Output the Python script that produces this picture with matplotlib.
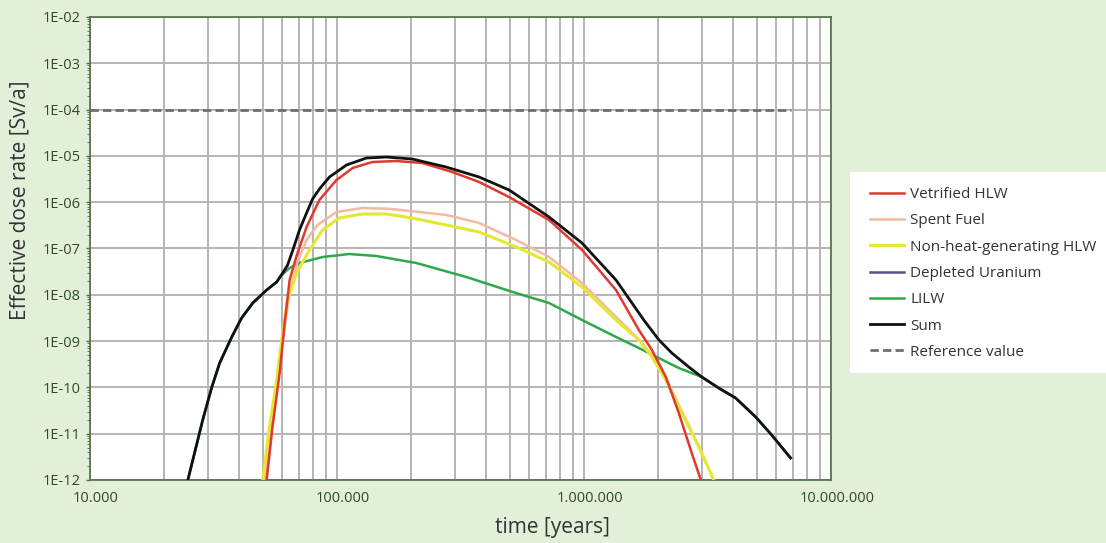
import numpy as np
import matplotlib
matplotlib.use('Agg')
import matplotlib.pyplot as plt
import matplotlib.ticker as ticker
from matplotlib.patches import Rectangle
from matplotlib.transforms import ScaledTranslation

plt.rcParams['font.family'] = ['Open Sans', 'DejaVu Sans']

# time [years] / dose rate [Sv/a]
sum_t = [24900, 26500, 28600, 31100, 33500, 37500, 41100, 45600, 51900, 57000, 60300, 63100,
         66700, 70500, 75300, 79600, 84900, 93200, 109200, 131500, 158500, 201600, 276700,
         376000, 498000, 722000, 982000, 1347000, 1746000, 2010000, 2268000, 2656000,
         2998000, 3510000, 4111000, 4955000, 5750000, 6860000]
sum_d = [1e-12, 3.83e-12, 1.98e-11, 1e-10, 3.37e-10, 1.23e-9, 3.16e-9, 6.65e-9, 1.27e-8, 1.89e-8,
         2.96e-8, 4.4e-8, 1.03e-7, 2.51e-7, 5.85e-7, 1.17e-6, 1.93e-6, 3.5e-6, 6.35e-6, 9.0e-6,
         9.46e-6, 8.57e-6, 5.75e-6, 3.5e-6, 1.83e-6, 4.79e-7, 1.31e-7, 2.09e-8, 2.86e-9, 1.06e-9,
         5.53e-10, 2.76e-10, 1.68e-10, 9.7e-11, 5.9e-11, 2.3e-11, 9.4e-12, 2.99e-12]

vhlw_t = [51900, 54800, 58600, 61400, 64300, 68600, 75300, 84900, 99500, 115700, 139000,
          173800, 221500, 293000, 376000, 498000, 722000, 982000, 1347000, 1667000, 1884000,
          2144000, 2420000, 2730000, 2972000]
vhlw_d = [1e-12, 1.4e-11, 2.05e-10, 2.46e-9, 2.09e-8, 6.9e-8, 2.91e-7, 1.12e-6, 3.01e-6, 5.48e-6,
          7.38e-6, 7.76e-6, 7.03e-6, 4.49e-6, 2.73e-6, 1.29e-6, 4.13e-7, 9.3e-8, 1.27e-8, 1.74e-9,
          6.43e-10, 1.68e-10, 2.8e-11, 3.83e-12, 1e-12]

sf_t = [50900, 54300, 57500, 60800, 64300, 69200, 75300, 83400, 99500, 126800, 163000, 215000,
        276700, 376000, 531000, 722000, 982000, 1347000, 1667000, 1884000, 2144000, 2488000,
        2917000, 3350000]
sf_d = [1e-12, 1.4e-11, 1.45e-10, 1.35e-9, 1.15e-8, 5.1e-8, 1.53e-7, 3.22e-7, 6.14e-7, 7.5e-7,
        7.2e-7, 6.14e-7, 5.3e-7, 3.56e-7, 1.53e-7, 6.55e-8, 1.8e-8, 3.32e-9, 1.1e-9, 5.0e-10,
        1.6e-10, 3.1e-11, 5.4e-12, 1e-12]

nhg_t = [50000, 53300, 57000, 59700, 63100, 68600, 77400, 87400, 102000, 126800, 158500,
         201600, 276700, 376000, 531000, 722000, 982000, 1347000, 1667000, 1884000, 2144000,
         2488000, 2917000, 3350000]
nhg_d = [1e-12, 1.4e-11, 1.45e-10, 1.06e-9, 7.7e-9, 2.96e-8, 9.3e-8, 2.51e-7, 4.56e-7, 5.56e-7,
         5.56e-7, 4.56e-7, 3.22e-7, 2.27e-7, 1.08e-7, 5.1e-8, 1.47e-8, 2.86e-9, 1.06e-9, 4.54e-10,
         1.45e-10, 2.8e-11, 5.2e-12, 1e-12]

du_t = []
du_d = []

lilw_t = [24900, 26500, 28600, 31100, 33500, 37500, 41100, 45600, 51900, 57000, 58600, 64300,
          70500, 87400, 112000, 144500, 209600, 334000, 531000, 722000, 982000, 1347000,
          1667000, 2010000, 2420000, 2998000, 3510000, 4111000, 4955000, 5750000, 6860000]
lilw_d = [1e-12, 3.83e-12, 1.98e-11, 1e-10, 3.37e-10, 1.23e-9, 3.16e-9, 6.65e-9, 1.27e-8, 1.89e-8,
          2.42e-8, 3.8e-8, 4.86e-8, 6.55e-8, 7.6e-8, 6.88e-8, 4.86e-8, 2.42e-8, 1.09e-8, 6.65e-9,
          2.86e-9, 1.23e-9, 7.1e-10, 4.3e-10, 2.62e-10, 1.68e-10, 9.7e-11, 5.9e-11, 2.3e-11,
          9.4e-12, 2.99e-12]

ref_t = [10000, 6900000]
ref_d = [1e-4, 1e-4]

yticks = [1e-12, 1e-11, 1e-10, 1e-9, 1e-8, 1e-7, 1e-6, 1e-5, 1e-4, 1e-3, 1e-2]
xticks = [1e4, 1e5, 1e6, 1e7]
xtick_labels = ['10.000', '100.000', '1.000.000', '10.000.000']

bg = '#e2efd9'
frame = '#4f6f45'
txt = '#2f4a2a'

fig = plt.figure(figsize=(11.06, 5.43), dpi=100, facecolor=bg)
ax = fig.add_axes([90 / 1106, 1 - 480 / 543, 741 / 1106, 463 / 543])
ax.set_facecolor('white')
ax.set_xscale('log')
ax.set_yscale('log')
ax.set_xlim(1e4, 1e7)
ax.set_ylim(1e-12, 1e-2)

ax.plot(lilw_t, lilw_d, color='#2fa84a', lw=1.8, label='LILW', zorder=3)
ax.plot(sf_t, sf_d, color='#f4b9a2', lw=1.8, label='Spent Fuel', zorder=3)
ax.plot(nhg_t, nhg_d, color='#e4e830', lw=2.2, label='Non-heat-generating HLW', zorder=3)
ax.plot(vhlw_t, vhlw_d, color='#e0392e', lw=1.8, label='Vetrified HLW', zorder=4)
ax.plot(du_t, du_d, color='#5b4d8c', lw=1.8, label='Depleted Uranium')
ax.plot(sum_t, sum_d, color='#111111', lw=2.0, label='Sum', zorder=5)
ax.plot(ref_t, ref_d, color='#6e6e6e', lw=2.0, ls=(0, (3, 1.5)), label='Reference value', zorder=2)

ax.yaxis.set_major_locator(ticker.FixedLocator(yticks))
ax.yaxis.set_major_formatter(ticker.FuncFormatter(lambda v, _: '1E-%02d' % round(-np.log10(v))))
ax.yaxis.set_minor_locator(ticker.LogLocator(base=10, subs=np.arange(2, 10), numticks=20))
ax.yaxis.set_minor_formatter(ticker.NullFormatter())
ax.xaxis.set_major_locator(ticker.FixedLocator(xticks))
ax.xaxis.set_major_formatter(ticker.FixedFormatter(xtick_labels))
ax.xaxis.set_minor_locator(ticker.LogLocator(base=10, subs=np.arange(2, 10), numticks=20))
ax.xaxis.set_minor_formatter(ticker.NullFormatter())

ax.grid(True, which='major', axis='both', color='#b4b4b4', lw=1.4)
ax.grid(True, which='minor', axis='x', color='#b4b4b4', lw=1.4)
ax.set_axisbelow(True)

ax.tick_params(axis='both', which='major', colors=frame, labelcolor=txt, labelsize=10.5, length=3, width=1)
ax.tick_params(axis='y', which='minor', colors=frame, length=2, width=0.6)
ax.tick_params(axis='x', which='minor', length=0)
ax.tick_params(axis='x', which='major', length=0, pad=8)
for lab in ax.get_xticklabels():
    lab.set_transform(lab.get_transform() + ScaledTranslation(6 / 100, 0, fig.dpi_scale_trans))
for s in ax.spines.values():
    s.set_color(frame)
    s.set_linewidth(1.2)

fig.text(20 / 1106, 1 - 200 / 543, 'Effective dose rate [Sv/a]', rotation=90, ha='center', va='center',
         fontsize=15, color='#333333')
fig.text(552 / 1106, 1 - 528 / 543, 'time [years]', ha='center', va='center',
         fontsize=15, color='#333333')

fig.patches.append(Rectangle((850 / 1106, 1 - 373 / 543), 256 / 1106, 201 / 543,
                             transform=fig.transFigure, facecolor='white', edgecolor='none'))
handles, labels = ax.get_legend_handles_labels()
order = ['Vetrified HLW', 'Spent Fuel', 'Non-heat-generating HLW', 'Depleted Uranium',
         'LILW', 'Sum', 'Reference value']
hmap = dict(zip(labels, handles))
leg = fig.legend([hmap[k] for k in order], order, loc='upper left',
                 bbox_to_anchor=(870 / 1106, 1 - 187 / 543), frameon=False, fontsize=11,
                 handlelength=2.2, handletextpad=0.45, labelspacing=0.74, borderpad=0, borderaxespad=0)
for t in leg.get_texts():
    t.set_color('#333333')

fig.savefig('out.png', dpi=100, facecolor=bg)
